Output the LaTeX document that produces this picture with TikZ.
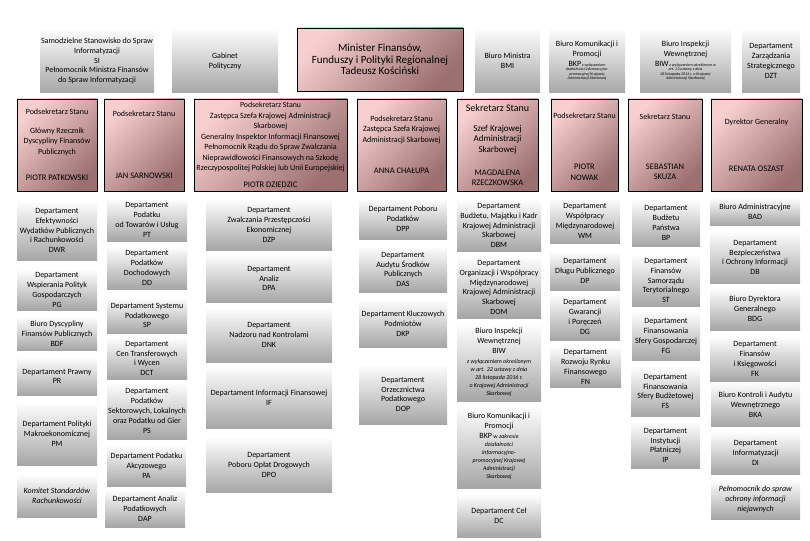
\documentclass[tikz,border=0pt]{standalone}
\usepackage{fontspec}
\setmainfont{Carlito}
\usepackage{tikz}
\usetikzlibrary{shadings}
\definecolor{pinklight}{RGB}{247,207,207}
\definecolor{pinkdark}{RGB}{156,112,112}
\definecolor{graytop}{RGB}{253,253,253}
\definecolor{graybottom}{RGB}{166,166,166}
\tikzstyle{graybox}=[top color=graytop, bottom color=graybottom, align=center, inner sep=0.5pt, font=\fontsize{8}{9.8}\selectfont]
\tikzstyle{pinkbox}=[draw=black, line width=0.8pt, top color=pinklight, bottom color=pinkdark, shading angle=45, align=center, inner sep=1pt, font=\fontsize{8}{10.5}\selectfont]
\newcommand{\person}[1]{{\fontsize{8.5}{10}\selectfont #1}}
\newcommand{\rank}[1]{{\fontsize{10}{10}\selectfont #1}}
\newcommand{\ninept}[1]{{\fontsize{9}{10}\selectfont #1}}
\newcommand{\kasnote}[1]{{\fontsize{6}{8}\selectfont\itshape\begin{tabular}[t]{@{}c@{}}#1\end{tabular}}}
\newcommand{\kastiny}[1]{{\fontsize{4}{4.5}\selectfont\itshape\begin{tabular}[t]{@{}c@{}}#1\end{tabular}}}
\newcommand{\kasabbr}[1]{{\fontsize{8}{8}\selectfont\upshape #1}}

\begin{document}
\begin{tikzpicture}[x=1pt, y=-1pt]

    \useasboundingbox (0,0) rectangle (810,540);

    % top row
    \foreach \x/\y/\w/\h/\name/\label in {
        40/29/114/64/si/{Samodzielne Stanowisko do Spraw\\Informatyzacji\\SI\\Pełnomocnik Ministra Finansów\\do Spraw Informatyzacji},
        172/29/106/64/gp/{Gabinet\\Polityczny},
        475/29/65/64/bmi/{Biuro Ministra\\BMI},
        549/29/76/64/bkptop/{Biuro Komunikacji i\\Promocji\\\kastiny{\kasabbr{BKP} z wyłączeniem\\działalności informacyjno-\\promocyjnej Krajowej\\Administracji Skarbowej}},
        640/29/91/64/biwtop/{Biuro Inspekcji\\Wewnętrznej\\\kastiny{\kasabbr{BIW} z wyłączeniem określonym w\\art. 22 ustawy z dnia\\28 listopada 2016 r. o Krajowej\\Administracji Skarbowej}},
        742/29/58/64/dzt/{Departament\\Zarządzania\\Strategicznego\\DZT}}
        \node[graybox, minimum width=\w pt, minimum height=\h pt] (\name) at ({\x+\w/2},{\y+\h/2}) {\label};

    \node[pinkbox, font=\fontsize{11}{11.5}\selectfont, minimum width=166pt, minimum height=63pt] (minister) at (380,59.5) {Minister Finansów,\\Funduszy i Polityki Regionalnej\\Tadeusz Kościński};

    % secretaries
    \foreach \x/\y/\w/\h/\name/\label in {
        17/99/80/92/patkowski/{Podsekretarz Stanu\\[8pt]Główny Rzecznik\\Dyscypliny Finansów\\Publicznych\\[16pt]\person{PIOTR PATKOWSKI}},
        104/99/80/92/sarnowski/{Podsekretarz Stanu\\[52pt]\person{JAN SARNOWSKI}},
        194/99/153/92/dziedzic/{\fontsize{7.8}{10.5}\selectfont Podsekretarz Stanu\\Zastępca Szefa Krajowej Administracji\\Skarbowej\\Generalny Inspektor Informacji Finansowej\\Pełnomocnik Rządu do Spraw Zwalczania\\Nieprawidłowości Finansowych na Szkodę\\Rzeczypospolitej Polskiej lub Unii Europejskiej\\[6.5pt]\person{PIOTR DZIEDZIC}},
        357/99/89/92/chalupa/{Podsekretarz Stanu\\Zastępca Szefa Krajowej\\Administracji Skarbowej\\[21pt]\person{ANNA CHAŁUPA}},
        457/99/81/92/rzeczkowska/{\rank{Sekretarz Stanu}\\[9.5pt]\ninept{Szef Krajowej}\\\ninept{Administracji}\\\ninept{Skarbowej}\\[12.5pt]\person{MAGDALENA}\\\person{RZECZKOWSKA}},
        551/99/67/92/nowak/{\mbox{}\\[-1pt]Podsekretarz Stanu\\[40.5pt]\person{PIOTR}\\\person{NOWAK}},
        628/99/74/92/skuza/{\mbox{}\\[-1pt]Sekretarz Stanu\\[39.5pt]\person{SEBASTIAN}\\\person{SKUZA}},
        711/99/91/92/oszast/{Dyrektor Generalny\\[36.5pt]\person{RENATA OSZAST}}}
        \node[pinkbox, minimum width=\w pt, minimum height=\h pt] (\name) at ({\x+\w/2},{\y+\h/2}) {\label};

    % departments
    \foreach \x/\y/\w/\h/\name/\label in {
        17/201/80/59/dwr/{Departament\\Efektywności\\Wydatków Publicznych\\i Rachunkowości\\DWR},
        17/270/80/40/pg/{Departament\\Wspierania Polityk\\Gospodarczych\\PG},
        17/317/80/33/bdf/{Biuro Dyscypliny\\Finansów Publicznych\\BDF},
        17/358/80/37/pr/{Departament Prawny\\PR},
        17/403/80/62/pm/{Departament Polityki\\Makroekonomicznej\\PM},
        17/475/80/42/ksr/{\textit{Komitet Standardów}\\\textit{Rachunkowości}},
        107/199/80/42/pt/{Departament\\Podatku\\od Towarów i Usług\\PT},
        107/247/80/42/dd/{Departament\\Podatków\\Dochodowych\\DD},
        107/298/80/35/sp/{Departament Systemu\\Podatkowego\\SP},
        107/338/80/41/dct/{Departament\\Cen Transferowych\\i Wycen\\DCT},
        107/383/80/56/ps/{Departament\\Podatków\\Sektorowych, Lokalnych\\oraz Podatku od Gier\\PS},
        107/445/79/41/pa/{Departament Podatku\\Akcyzowego\\PA},
        105/490/80/37/dap/{Departament Analiz\\Podatkowych\\DAP},
        206/200/126/50/dzp/{Departament\\Zwalczania Przestępczości\\Ekonomicznej\\DZP},
        206/255/126/47/dpa/{Departament\\Analiz\\DPA},
        206/308/126/54/dnk/{Departament\\Nadzoru nad Kontrolami\\DNK},
        206/367/126/61/if/{Departament Informacji Finansowej\\IF},
        206/438/126/54/dpo/{Departament\\Poboru Opłat Drogowych\\DPO},
        359/199/88/40/dpp/{Departament Poboru\\Podatków\\DPP},
        359/247/88/45/das/{Departament\\Audytu Środków\\Publicznych\\DAS},
        359/300/88/47/dkp/{Departament Kluczowych\\Podmiotów\\DKP},
        359/365/88/59/dop/{Departament\\Orzecznictwa\\Podatkowego\\DOP},
        457/200/84/51/dbm/{Departament\\Budżetu, Majątku i Kadr\\Krajowej Administracji\\Skarbowej\\DBM},
        457/257/84/61/dom/{Departament\\Organizacji i Współpracy\\Międzynarodowej\\Krajowej Administracji\\Skarbowej\\DOM},
        457/325/84/76/biw/{Biuro Inspekcji\\Wewnętrznej\\BIW\\\kasnote{z wyłączeniem określonym\\w art. 22 ustawy z dnia\\28 listopada 2016 r.\\o Krajowej Administracji\\Skarbowej}},
        457/406/84/82/bkp/{\fontsize{8}{8.5}\selectfont Biuro Komunikacji i\\Promocji\\\kasnote{\kasabbr{BKP} w zakresie\\działalności\\informacyjno-\\promocyjnej Krajowej\\Administracji\\Skarbowej}},
        457/495/84/42/dc/{Departament Ceł\\DC},
        550/199/70/44/wm/{Departament\\Współpracy\\Międzynarodowej\\WM},
        550/252/70/38/dp/{Departament\\Długu Publicznego\\DP},
        550/294/70/46/dg/{Departament\\Gwarancji\\i Poręczeń\\DG},
        550/347/71/40/fn/{Departament\\Rozwoju Rynku\\Finansowego\\FN},
        632/200/68/46/bp/{Departament\\Budżetu\\Państwa\\BP},
        632/255/68/51/st/{Departament\\Finansów\\Samorządu\\Terytorialnego\\ST},
        632/312/68/48/fg/{Departament\\Finansowania\\Sfery Gospodarczej\\FG},
        631/367/69/49/fs/{Departament\\Finansowania\\Sfery Budżetowej\\FS},
        631/423/69/45/ip/{Departament\\Instytucji\\Płatniczej\\IP},
        710/198/90/27/bad/{Biuro Administracyjne\\BAD},
        710/232/90/51/db/{Departament\\Bezpieczeństwa\\i Ochrony Informacji\\DB},
        710/288/90/42/bdg/{Biuro Dyrektora\\Generalnego\\BDG},
        710/337/90/44/fk/{Departament\\Finansów\\i Księgowości\\FK},
        711/383/89/43/bka/{Biuro Kontroli i Audytu\\Wewnętrznego\\BKA},
        711/432/89/42/di/{Departament\\Informatyzacji\\DI},
        711/480/89/39/pn/{\textit{Pełnomocnik do spraw}\\\textit{ochrony informacji}\\\textit{niejawnych}}}
        \node[graybox, minimum width=\w pt, minimum height=\h pt] (\name) at ({\x+\w/2},{\y+\h/2}) {\label};

\end{tikzpicture}
\end{document}
